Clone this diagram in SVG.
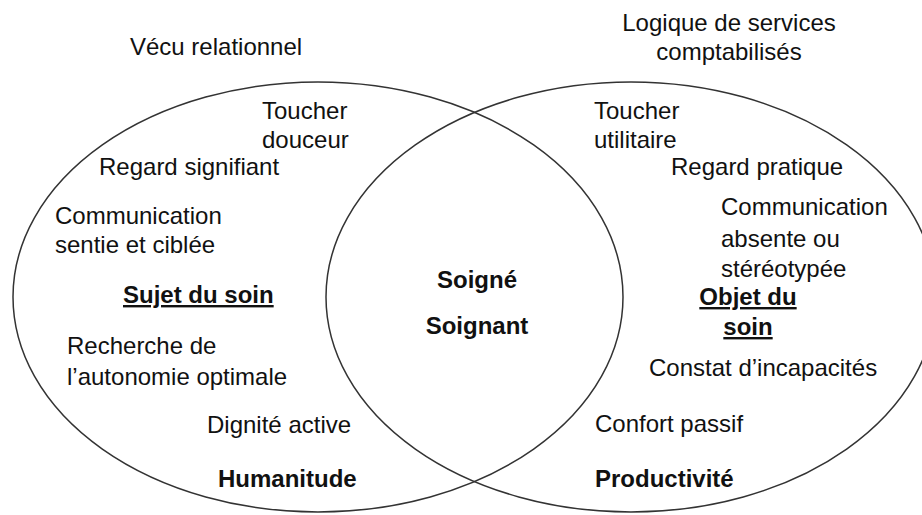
<svg xmlns="http://www.w3.org/2000/svg" width="922" height="515" viewBox="0 0 922 515">
<style>
.c{fill:none;stroke:#333;stroke-width:1.5}
text{font-family:"Liberation Sans",Arial,sans-serif;font-size:24px;fill:#111}
.b{font-weight:bold}
.u{text-decoration:underline}
</style>
<rect width="922" height="515" fill="#fff"/>
<g id="circles">
<ellipse id="left" class="c" cx="318" cy="297" rx="305" ry="215"/>
<ellipse id="right" class="c" cx="631" cy="297" rx="305" ry="215"/>
</g>
<g id="left-labels">
<text x="130" y="55">Vécu relationnel</text>
<text x="262" y="119">Toucher</text>
<text x="262" y="148">douceur</text>
<text x="99" y="175">Regard signifiant</text>
<text x="55" y="224">Communication</text>
<text x="55" y="253">sentie et ciblée</text>
<text x="123" y="303" class="b u">Sujet du soin</text>
<text x="67" y="354">Recherche de</text>
<text x="67" y="385">l’autonomie optimale</text>
<text x="207" y="433">Dignité active</text>
<text x="218" y="487" class="b">Humanitude</text>
</g>
<g id="center-labels">
<text x="477" y="288" class="b" text-anchor="middle">Soigné</text>
<text x="477" y="334" class="b" text-anchor="middle">Soignant</text>
</g>
<g id="right-labels">
<text x="729" y="31" text-anchor="middle">Logique de services</text>
<text x="729" y="60" text-anchor="middle">comptabilisés</text>
<text x="594" y="119">Toucher</text>
<text x="594" y="148">utilitaire</text>
<text x="671" y="175">Regard pratique</text>
<text x="721" y="215">Communication</text>
<text x="721" y="247">absente ou</text>
<text x="721" y="277">stéréotypée</text>
<text x="748" y="305" class="b u" text-anchor="middle">Objet du</text>
<text x="748" y="335" class="b u" text-anchor="middle">soin</text>
<text x="649" y="376">Constat d’incapacités</text>
<text x="595" y="432">Confort passif</text>
<text x="595" y="487" class="b">Productivité</text>
</g>
</svg>
